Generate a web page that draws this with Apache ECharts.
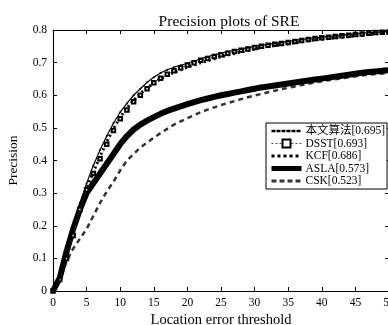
<!DOCTYPE html>
<html>
<head>
<meta charset="utf-8">
<script src="https://cdn.jsdelivr.net/npm/echarts@6/dist/echarts.min.js"></script>
<style>html,body{margin:0;padding:0;background:#fff}#c{width:388px;height:325px}</style>
</head>
<body>
<div id="c"></div>
<script>
var thresholds = [];
for (var i = 0; i <= 50; i++) thresholds.push(i);

var seriesNames = ['本文算法[0.695]', 'DSST[0.693]', 'KCF[0.686]', 'ASLA[0.573]', 'CSK[0.523]'];

var oursValues = [0.00,0.04,0.11,0.19,0.27,0.33,0.385,0.432,0.475,0.515,0.548,0.575,0.60,0.62,0.64,0.655,0.668,0.678,0.686,0.692,0.698,0.705,0.712,0.718,0.724,0.729,0.734,0.738,0.742,0.746,0.75,0.753,0.756,0.759,0.762,0.765,0.768,0.771,0.774,0.776,0.778,0.78,0.782,0.784,0.786,0.788,0.79,0.792,0.793,0.794,0.795];
var dsstValues = [0.00,0.035,0.10,0.17,0.25,0.31,0.36,0.405,0.45,0.492,0.528,0.555,0.58,0.60,0.62,0.638,0.652,0.664,0.675,0.684,0.693,0.70,0.707,0.713,0.719,0.724,0.729,0.734,0.738,0.742,0.746,0.75,0.753,0.756,0.759,0.762,0.765,0.768,0.771,0.774,0.776,0.778,0.78,0.782,0.784,0.786,0.788,0.79,0.792,0.793,0.794];
var kcfValues = [0.00,0.035,0.10,0.175,0.255,0.315,0.365,0.412,0.458,0.498,0.533,0.56,0.585,0.605,0.622,0.638,0.65,0.661,0.67,0.678,0.686,0.693,0.70,0.706,0.712,0.718,0.723,0.728,0.733,0.737,0.741,0.745,0.749,0.752,0.755,0.758,0.761,0.764,0.767,0.77,0.772,0.774,0.776,0.778,0.78,0.782,0.784,0.786,0.788,0.79,0.791];
var aslaValues = [0.00,0.04,0.12,0.19,0.25,0.30,0.33,0.36,0.39,0.42,0.45,0.475,0.495,0.51,0.522,0.533,0.543,0.552,0.559,0.566,0.573,0.579,0.585,0.59,0.595,0.60,0.604,0.608,0.612,0.616,0.62,0.624,0.627,0.63,0.633,0.636,0.639,0.642,0.645,0.648,0.651,0.654,0.657,0.66,0.663,0.666,0.669,0.671,0.673,0.675,0.677];
var cskValues = [0.00,0.03,0.09,0.13,0.16,0.19,0.23,0.27,0.305,0.335,0.37,0.40,0.42,0.44,0.455,0.47,0.484,0.497,0.51,0.52,0.53,0.539,0.548,0.556,0.563,0.57,0.576,0.582,0.588,0.594,0.599,0.604,0.609,0.614,0.619,0.623,0.627,0.631,0.635,0.639,0.643,0.646,0.649,0.652,0.655,0.658,0.661,0.663,0.665,0.667,0.669];

var xTickLabels = ['0','5','10','15','20','25','30','35','40','45','50'];
var yTickLabels = ['0','0.1','0.2','0.3','0.4','0.5','0.6','0.7','0.8'];

function pairs(vals) { return thresholds.map(function (x, i) { return [x, vals[i]]; }); }

var FONT = '"Liberation Serif", "Noto Sans CJK SC", serif';
var chart = echarts.init(document.getElementById('c'), null, { renderer: 'canvas' });

var tickStyle = { show: true, inside: true, length: 4, lineStyle: { color: '#000', width: 1 } };
var lineAxis = { show: true, onZero: false, lineStyle: { color: '#000', width: 1.1 } };

chart.setOption({
  animation: false,
  backgroundColor: '#fff',
  title: {
    text: 'Precision plots of SRE',
    left: 224, top: 9, textAlign: 'center',
    textStyle: { fontFamily: FONT, fontSize: 15.5, fontWeight: 'normal', color: '#000' }
  },
  grid: { left: 53, top: 30, width: 336, height: 261, show: false, outerBoundsMode: 'none', containLabel: false },
  legend: {
    data: [
      { name: seriesNames[0], itemStyle: { opacity: 0 }, lineStyle: { width: 2.5, type: [4, 1] } },
      { name: seriesNames[1], itemStyle: { borderWidth: 1 }, lineStyle: { width: 1, type: [2, 2] } },
      { name: seriesNames[2], itemStyle: { opacity: 0 }, lineStyle: { width: 3, type: [3, 3] } },
      { name: seriesNames[3], itemStyle: { opacity: 0 }, lineStyle: { width: 5 } },
      { name: seriesNames[4], itemStyle: { opacity: 0 }, lineStyle: { width: 3, type: [5, 3] } }
    ],
    orient: 'vertical', left: 266, top: 123,
    padding: [2, 2, 2, 3], itemGap: 0.5, itemWidth: 30, itemHeight: 10,
    borderColor: '#000', borderWidth: 1, backgroundColor: '#fff',
    textStyle: { fontFamily: FONT, fontSize: 11.5, lineHeight: 12, color: '#000', padding: [0, 0, 0, -1] }
  },
  xAxis: [{
    type: 'value', min: 0, max: 50, interval: 5, position: 'bottom',
    name: 'Location error threshold', nameLocation: 'middle', nameGap: 22,
    nameTextStyle: { fontFamily: FONT, fontSize: 14.5, color: '#000' },
    axisLine: lineAxis, axisTick: tickStyle, splitLine: { show: false },
    axisLabel: { fontFamily: FONT, fontSize: 11.5, color: '#000', margin: 6,
      formatter: function (v) { return xTickLabels[Math.round(v / 5)]; } }
  }, {
    type: 'value', min: 0, max: 50, interval: 5, position: 'top',
    axisLine: lineAxis, axisTick: tickStyle, splitLine: { show: false }, axisLabel: { show: false }
  }],
  yAxis: [{
    type: 'value', min: 0, max: 0.8, interval: 0.1, position: 'left',
    name: 'Precision', nameLocation: 'middle', nameGap: 33,
    nameTextStyle: { fontFamily: FONT, fontSize: 13.5, color: '#000' },
    axisLine: lineAxis, axisTick: tickStyle, splitLine: { show: false },
    axisLabel: { fontFamily: FONT, fontSize: 11.5, color: '#000', margin: 6,
      formatter: function (v) { return yTickLabels[Math.round(v * 10)]; } }
  }, {
    type: 'value', min: 0, max: 0.8, interval: 0.1, position: 'right',
    axisLine: lineAxis, axisTick: tickStyle, splitLine: { show: false }, axisLabel: { show: false }
  }],
  series: [
    { name: seriesNames[0], type: 'line', data: pairs(oursValues), z: 6,
      symbol: 'circle', symbolSize: 2, showAllSymbol: true,
      itemStyle: { color: '#000' }, lineStyle: { color: '#000', width: 1.2 } },
    { name: seriesNames[1], type: 'line', data: pairs(dsstValues), z: 5,
      symbol: 'emptyRect', symbolSize: 3.5, showAllSymbol: true,
      itemStyle: { color: '#000', borderWidth: 1 }, lineStyle: { color: '#555', width: 0.6, type: 'dotted' } },
    { name: seriesNames[2], type: 'line', data: pairs(kcfValues), z: 4,
      symbol: 'none',
      itemStyle: { color: '#000' }, lineStyle: { color: '#000', width: 3, type: [2, 3] } },
    { name: seriesNames[3], type: 'line', data: pairs(aslaValues), z: 3,
      symbol: 'none',
      itemStyle: { color: '#000' }, lineStyle: { color: '#000', width: 6 } },
    { name: seriesNames[4], type: 'line', data: pairs(cskValues), z: 2,
      symbol: 'none',
      itemStyle: { color: '#333' }, lineStyle: { color: '#333', width: 2.5, type: [5, 4] } }
  ]
});
</script>
</body>
</html>
